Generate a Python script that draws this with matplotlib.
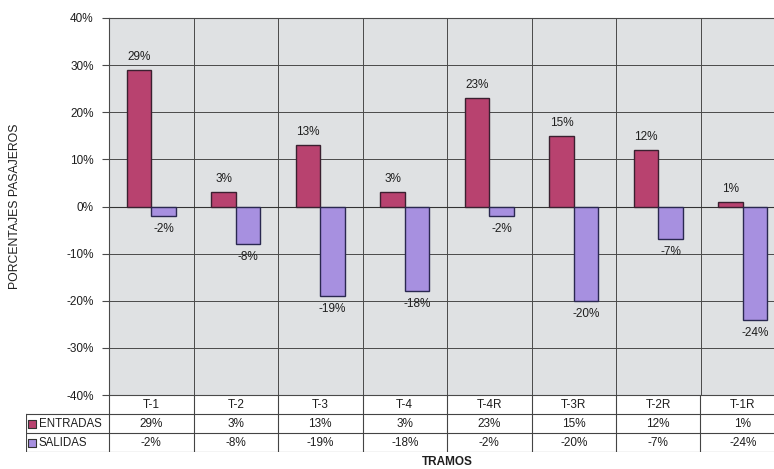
import matplotlib
matplotlib.use("Agg")
import matplotlib.pyplot as plt
import numpy as np

plt.rcParams["font.family"] = ["Liberation Sans", "DejaVu Sans"]

# ── Data ──────────────────────────────────────────────────────────────────────
tramos   = ["T-1", "T-2", "T-3", "T-4", "T-4R", "T-3R", "T-2R", "T-1R"]
entradas = [29, 3, 13, 3, 23, 15, 12, 1]
salidas  = [-2, -8, -19, -18, -2, -20, -7, -24]
yticks   = [-40, -30, -20, -10, 0, 10, 20, 30, 40]

C_ENT = "#b8426f"
C_SAL = "#a790e0"
BG    = "#dfe1e3"
GRID  = "#4a4a4a"
TXT   = "#1e1e1e"
FS    = 8.5

W, H = 774, 469
fig = plt.figure(figsize=(W / 100, H / 100), dpi=100)
fig.patch.set_facecolor("white")

# plot area in pixels (right edge runs past the image, as in the scan)
px_l, px_r, px_t, px_b = 109, 785, 18, 395
ax = fig.add_axes([px_l / W, 1 - px_b / H, (px_r - px_l) / W, (px_b - px_t) / H])
ax.set_facecolor(BG)

x = np.arange(len(tramos))
bw = 0.29
b1 = ax.bar(x - bw / 2, entradas, bw, color=C_ENT, edgecolor="#3a2030", linewidth=1.0, zorder=3)
b2 = ax.bar(x + bw / 2, salidas, bw, color=C_SAL, edgecolor="#2a2850", linewidth=1.0, zorder=3)

for rect, v in zip(b1, entradas):
    ax.annotate(f"{v}%", (rect.get_x() + rect.get_width() / 2, v), textcoords="offset points",
                xytext=(0, 5), ha="center", va="bottom", fontsize=FS, color=TXT)
for rect, v in zip(b2, salidas):
    ax.annotate(f"{v}%", (rect.get_x() + rect.get_width() / 2, v), textcoords="offset points",
                xytext=(0, -5), ha="center", va="top", fontsize=FS, color=TXT)

ax.set_xlim(-0.5, len(tramos) - 0.5)
ax.set_ylim(-40, 40)
ax.set_yticks(yticks)
ax.set_yticklabels([f"{t}%" for t in yticks], fontsize=FS, color=TXT)
ax.set_xticks(np.arange(len(tramos) + 1) - 0.5)
ax.set_xticklabels([])
ax.tick_params(axis="x", length=0)
ax.tick_params(axis="y", length=5, color=GRID, pad=6)
ax.grid(True, color=GRID, linewidth=0.7, zorder=0)
ax.axhline(0, color="#333333", linewidth=0.8, zorder=2)
for s in ax.spines.values():
    s.set_color(GRID)
    s.set_linewidth(0.8)

fig.text(15 / W, 1 - 206 / H, "PORCENTAJES PASAJEROS", rotation=90, ha="center", va="center",
         fontsize=8.8, color=TXT)

# ── Data table below the plot ─────────────────────────────────────────────────
tl = 26
unit = (px_r - px_l) / len(tramos)
tab_t, tab_b = 395, 452
tax = fig.add_axes([tl / W, 1 - tab_b / H, (px_r - tl) / W, (tab_b - tab_t) / H])
tax.set_xlim(-0.5 - (px_l - tl) / unit, len(tramos) - 0.5)
tax.set_ylim(0, 3)
tax.axis("off")
x0 = -0.5 - (px_l - tl) / unit
lc = "#444444"

# horizontal lines
tax.plot([-0.5, len(tramos) - 0.5], [2, 2], color=lc, lw=0.8)
tax.plot([x0, len(tramos) - 0.5], [1, 1], color=lc, lw=0.8)
tax.plot([x0, len(tramos) - 0.5], [0, 0], color=lc, lw=0.8)
tax.plot([x0, -0.5], [2, 2], color=lc, lw=0.8)
# vertical lines
tax.plot([x0, x0], [0, 2], color=lc, lw=0.8)
for i in range(len(tramos) + 1):
    tax.plot([i - 0.5, i - 0.5], [0, 3], color=lc, lw=0.8)

for i, t in enumerate(tramos):
    tax.text(i, 2.5, t, ha="center", va="center", fontsize=FS, color=TXT)
    tax.text(i, 1.5, f"{entradas[i]}%", ha="center", va="center", fontsize=FS, color=TXT)
    tax.text(i, 0.5, f"{salidas[i]}%", ha="center", va="center", fontsize=FS, color=TXT)

for row, name, col in [(1.5, "ENTRADAS", C_ENT), (0.5, "SALIDAS", C_SAL)]:
    tax.scatter([x0 + 0.07], [row], marker="s", s=28, color=col, edgecolor="#333333",
                linewidth=0.8, zorder=3)
    tax.text(x0 + 0.15, row, name, ha="left", va="center", fontsize=8.3, color=TXT)

fig.text(447 / W, 1 - 462 / H, "TRAMOS", ha="center", va="center", fontsize=8.5,
         fontweight="bold", color=TXT)

fig.savefig("out.png", dpi=100)
